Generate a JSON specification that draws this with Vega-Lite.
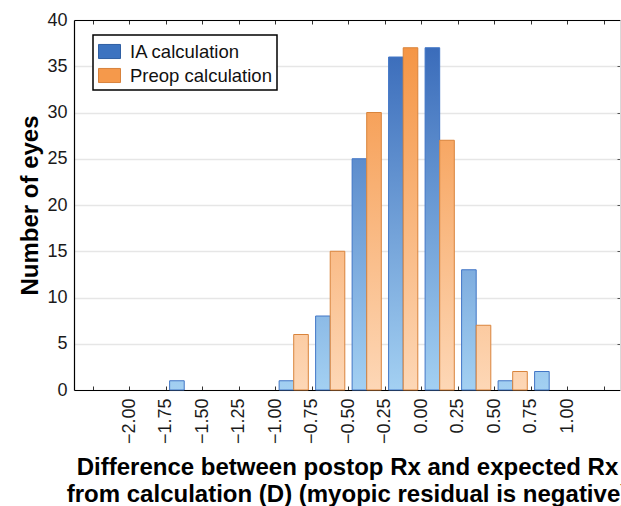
{
  "$schema": "https://vega.github.io/schema/vega-lite/v6.json",
  "width": 546,
  "height": 370,
  "autosize": {"type": "none"},
  "padding": {"left": 74, "top": 20, "right": 1, "bottom": 116},
  "background": "#ffffff",
  "config": {
    "view": {"stroke": null},
    "font": "Liberation Sans",
    "axis": {"labelFont": "Liberation Sans", "titleFont": "Liberation Sans"},
    "legend": {"labelFont": "Liberation Sans"}
  },
  "data": {
    "values": [
      {"lo": -1.75, "hi": -1.5, "series": "IA calculation", "count": 1},
      {"lo": -1.0, "hi": -0.75, "series": "IA calculation", "count": 1},
      {"lo": -0.75, "hi": -0.5, "series": "IA calculation", "count": 8},
      {"lo": -0.5, "hi": -0.25, "series": "IA calculation", "count": 25},
      {"lo": -0.25, "hi": 0.0, "series": "IA calculation", "count": 36},
      {"lo": 0.0, "hi": 0.25, "series": "IA calculation", "count": 37},
      {"lo": 0.25, "hi": 0.5, "series": "IA calculation", "count": 13},
      {"lo": 0.5, "hi": 0.75, "series": "IA calculation", "count": 1},
      {"lo": 0.75, "hi": 1.0, "series": "IA calculation", "count": 2},
      {"lo": -1.0, "hi": -0.75, "series": "Preop calculation", "count": 6},
      {"lo": -0.75, "hi": -0.5, "series": "Preop calculation", "count": 15},
      {"lo": -0.5, "hi": -0.25, "series": "Preop calculation", "count": 30},
      {"lo": -0.25, "hi": 0.0, "series": "Preop calculation", "count": 37},
      {"lo": 0.0, "hi": 0.25, "series": "Preop calculation", "count": 27},
      {"lo": 0.25, "hi": 0.5, "series": "Preop calculation", "count": 7},
      {"lo": 0.5, "hi": 0.75, "series": "Preop calculation", "count": 2}
    ]
  },
  "resolve": {"axis": {"x": "independent", "y": "independent"}},
  "layer": [
    {
      "transform": [{"filter": "datum.count < 0"}],
      "mark": {"type": "bar"},
      "encoding": {
        "x": {
          "field": "lo", "type": "quantitative",
          "scale": {"domain": [-2.38, 1.36], "nice": false, "zero": false, "padding": 0},
          "axis": {
            "orient": "bottom",
            "values": [-2.25, -2.0, -1.75, -1.5, -1.25, -1.0, -0.75, -0.5, -0.25, 0.0, 0.25, 0.5, 0.75, 1.0, 1.25],
            "format": ".2f",
            "labelExpr": "datum.value < -2.1 || datum.value > 1.1 ? '' : datum.label",
            "labelAngle": -90,
            "labelFontSize": 18,
            "labelColor": "#1a1a1a",
            "labelPadding": 12,
            "labelFlush": false,
            "labelOverlap": false,
            "tickSize": -4,
            "tickColor": "#333333",
            "domainColor": "#000000",
            "domainWidth": 1.2,
            "grid": false,
            "title": ["Difference between postop Rx and expected Rx", "from calculation (D) (myopic residual is negative)"],
            "titleFontSize": 24,
            "titleFontWeight": "bold",
            "titleColor": "#000000",
            "titleLineHeight": 27,
            "titlePadding": 12
          }
        },
        "x2": {"field": "hi"},
        "y": {
          "field": "count", "type": "quantitative", "stack": null,
          "scale": {"domain": [0, 40], "nice": false, "zero": true, "padding": 0},
          "axis": {
            "orient": "left",
            "values": [0, 5, 10, 15, 20, 25, 30, 35, 40],
            "ticks": false,
            "labelFontSize": 18,
            "labelColor": "#1a1a1a",
            "labelPadding": 7,
            "labelFlush": false,
            "grid": true,
            "gridColor": "#e6e6e6",
            "gridWidth": 1.5,
            "domainColor": "#000000",
            "domainWidth": 1.2,
            "title": "Number of eyes",
            "titleFontSize": 24,
            "titleFontWeight": "bold",
            "titleColor": "#000000",
            "titlePadding": 4
          }
        },
        "y2": {"datum": 0},
        "fill": {
          "field": "series", "type": "nominal",
          "scale": {"domain": ["IA calculation", "Preop calculation"], "range": ["#3c73c0", "#f5994b"]},
          "legend": {
            "title": null, "orient": "none", "legendX": 19, "legendY": 15,
            "symbolType": "M-1,-0.64H1V0.64H-1Z", "symbolSize": 484, "symbolStrokeWidth": 1,
            "labelFontSize": 18.5, "labelColor": "#111111", "labelOffset": 9,
            "rowPadding": 3, "padding": 5,
            "strokeColor": "#000000", "fillColor": "#ffffff",
            "encode": {"legend": {"update": {"strokeWidth": {"value": 1.5}}}}
          }
        },
        "stroke": {
          "field": "series", "type": "nominal",
          "scale": {"domain": ["IA calculation", "Preop calculation"], "range": ["#2f5fa3", "#d8823c"]},
          "legend": {
            "title": null, "orient": "none", "legendX": 19, "legendY": 15,
            "symbolType": "M-1,-0.64H1V0.64H-1Z", "symbolSize": 484, "symbolStrokeWidth": 1,
            "labelFontSize": 18.5, "labelColor": "#111111", "labelOffset": 9,
            "rowPadding": 3, "padding": 5,
            "strokeColor": "#000000", "fillColor": "#ffffff",
            "encode": {"legend": {"update": {"strokeWidth": {"value": 1.5}}}}
          }
        }
      }
    },
    {
      "transform": [{"filter": "datum.series === 'IA calculation'"}],
      "mark": {"type": "bar", "fill": "#a3d0f2", "xOffset": 3.65, "x2Offset": -18.25},
      "encoding": {
        "x": {
          "field": "lo", "type": "quantitative",
          "scale": {"domain": [-2.38, 1.36], "nice": false, "zero": false, "padding": 0},
          "axis": {
            "orient": "top",
            "values": [-2.25, -2.0, -1.75, -1.5, -1.25, -1.0, -0.75, -0.5, -0.25, 0.0, 0.25, 0.5, 0.75, 1.0, 1.25],
            "labels": false, "tickSize": -4, "tickColor": "#333333",
            "domainColor": "#000000", "domainWidth": 1.2, "grid": false, "title": null
          }
        },
        "x2": {"field": "hi"},
        "y": {
          "field": "count", "type": "quantitative", "stack": null,
          "scale": {"domain": [0, 40], "nice": false, "zero": true, "padding": 0},
          "axis": {
            "orient": "right",
            "values": [5, 10, 15, 20, 25, 30, 35],
            "labels": false, "tickSize": -3, "tickColor": "#555555",
            "domainColor": "#d9d9d9", "domainWidth": 1, "grid": false, "title": null
          }
        },
        "y2": {"datum": 0}
      }
    },
    {
      "transform": [{"filter": "datum.series === 'IA calculation'"}],
      "mark": {
        "type": "bar", "xOffset": 3.65, "x2Offset": -18.25, "stroke": "#4276c6", "strokeWidth": 1,
        "fill": {"gradient": "linear", "x1": 0, "y1": 0, "x2": 0, "y2": 1,
          "stops": [{"offset": 0, "color": "rgba(50,100,182,1)"}, {"offset": 1, "color": "rgba(50,100,182,0)"}]}
      },
      "encoding": {
        "x": {"field": "lo", "type": "quantitative", "scale": {"domain": [-2.38, 1.36], "nice": false, "zero": false, "padding": 0}, "axis": null},
        "x2": {"field": "hi"},
        "y": {"field": "count", "type": "quantitative", "stack": null, "scale": {"domain": [0, 40], "nice": false, "zero": true, "padding": 0}, "axis": null},
        "y2": {"datum": 0},
        "fillOpacity": {"field": "count", "type": "quantitative", "scale": {"domain": [0, 40], "range": [0, 1], "zero": true, "nice": false}, "legend": null}
      }
    },
    {
      "transform": [{"filter": "datum.series === 'Preop calculation'"}],
      "mark": {"type": "bar", "fill": "#fdd7b6", "xOffset": 18.25, "x2Offset": -3.65},
      "encoding": {
        "x": {"field": "lo", "type": "quantitative", "scale": {"domain": [-2.38, 1.36], "nice": false, "zero": false, "padding": 0}, "axis": null},
        "x2": {"field": "hi"},
        "y": {"field": "count", "type": "quantitative", "stack": null, "scale": {"domain": [0, 40], "nice": false, "zero": true, "padding": 0}, "axis": null},
        "y2": {"datum": 0}
      }
    },
    {
      "transform": [{"filter": "datum.series === 'Preop calculation'"}],
      "mark": {
        "type": "bar", "xOffset": 18.25, "x2Offset": -3.65, "stroke": "#d9843c", "strokeWidth": 1,
        "fill": {"gradient": "linear", "x1": 0, "y1": 0, "x2": 0, "y2": 1,
          "stops": [{"offset": 0, "color": "rgba(244,144,60,1)"}, {"offset": 1, "color": "rgba(244,144,60,0)"}]}
      },
      "encoding": {
        "x": {"field": "lo", "type": "quantitative", "scale": {"domain": [-2.38, 1.36], "nice": false, "zero": false, "padding": 0}, "axis": null},
        "x2": {"field": "hi"},
        "y": {"field": "count", "type": "quantitative", "stack": null, "scale": {"domain": [0, 40], "nice": false, "zero": true, "padding": 0}, "axis": null},
        "y2": {"datum": 0},
        "fillOpacity": {"field": "count", "type": "quantitative", "scale": {"domain": [0, 40], "range": [0, 1], "zero": true, "nice": false}, "legend": null}
      }
    }
  ]
}
